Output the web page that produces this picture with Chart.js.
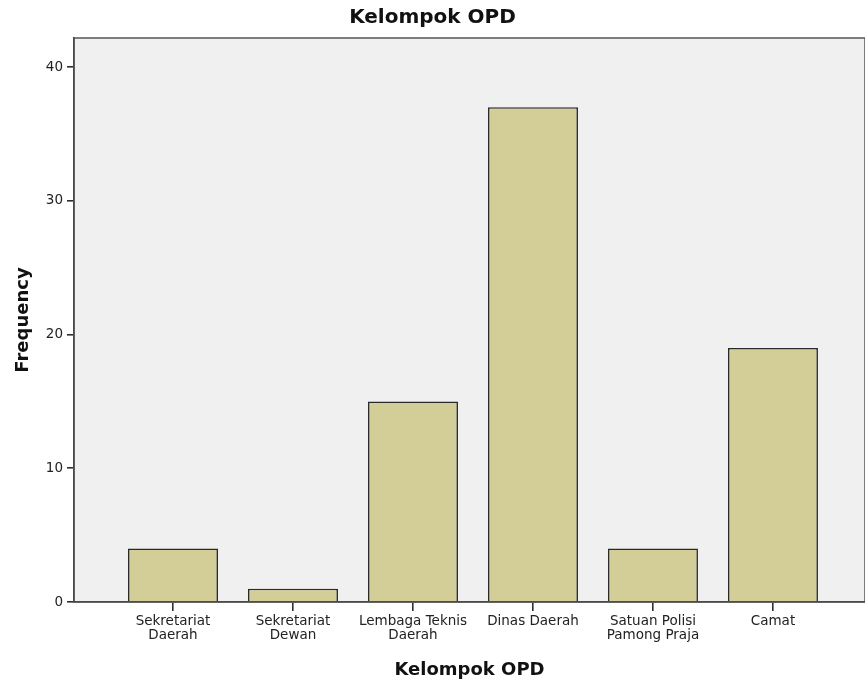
<!DOCTYPE html>
<html>
<head>
<meta charset="utf-8">
<script src="https://cdn.jsdelivr.net/npm/chart.js@4"></script>
<style>
  html, body { margin: 0; padding: 0; background: #ffffff; }
  #wrap { width: 865px; height: 700px; }
</style>
</head>
<body>
<div id="wrap"><canvas id="chart" width="865" height="700"></canvas></div>
<script>
// Data
const categories = [
  ['Sekretariat', 'Daerah'],
  ['Sekretariat', 'Dewan'],
  ['Lembaga Teknis', 'Daerah'],
  'Dinas Daerah',
  ['Satuan Polisi', 'Pamong Praja'],
  'Camat'
];
const frequencies = [4, 1, 15, 37, 4, 19];
const yTicks = [0, 10, 20, 30, 40];

const FONT = "'DejaVu Sans', sans-serif";
const AXIS_COLOR = '#2e2e2e';

// light grey plot background plus frame
const plotFrame = {
  id: 'plotFrame',
  beforeDraw(chart) {
    const { ctx, chartArea: a } = chart;
    ctx.save();
    ctx.fillStyle = '#f0f0f0';
    ctx.fillRect(a.left, a.top, a.right - a.left, a.bottom - a.top);
    ctx.restore();
  },
  afterDraw(chart) {
    const { ctx, chartArea: a } = chart;
    ctx.save();
    ctx.strokeStyle = '#555555';
    ctx.lineWidth = 1.5;
    ctx.strokeRect(a.left, a.top, a.right - a.left, a.bottom - a.top);
    ctx.restore();
  }
};

const points = frequencies.map((v, i) => ({ x: i, y: v }));

new Chart(document.getElementById('chart'), {
  type: 'bar',
  data: {
    datasets: [{
      data: points,
      backgroundColor: '#d3ce98',
      borderColor: '#2a2a2a',
      borderWidth: 1.6,
      barPercentage: 0.75,
      categoryPercentage: 1
    }]
  },
  options: {
    responsive: false,
    animation: false,
    layout: { padding: 0 },
    plugins: {
      legend: { display: false },
      tooltip: { enabled: false },
      title: {
        display: true,
        text: 'Kelompok OPD',
        color: '#111111',
        font: { family: FONT, size: 20, weight: 'bold', lineHeight: 1.2 },
        padding: { top: 6, bottom: 8 }
      }
    },
    scales: {
      x: {
        type: 'linear',
        offset: false,
        min: -0.825,
        max: 5.767,
        afterFit(scale) { scale.height = 98; },
        afterBuildTicks(scale) {
          scale.ticks = categories.map((c, i) => ({ value: i }));
        },
        grid: {
          offset: false,
          drawOnChartArea: false,
          drawTicks: true,
          tickLength: 9,
          color: AXIS_COLOR,
          lineWidth: 1.6
        },
        border: { display: true, color: AXIS_COLOR, width: 1.6 },
        ticks: {
          autoSkip: false,
          maxRotation: 0,
          padding: 3,
          color: '#222222',
          font: { family: FONT, size: 13.5, lineHeight: 1.07 },
          callback: (v) => categories[v]
        },
        title: {
          display: true,
          text: 'Kelompok OPD',
          color: '#111111',
          font: { family: FONT, size: 18, weight: 'bold', lineHeight: 1.2 },
          padding: { top: 0, bottom: 19 }
        }
      },
      y: {
        min: 0,
        max: 42.17,
        afterFit(scale) { scale.width = 74; },
        afterBuildTicks(scale) {
          scale.ticks = yTicks.map((v) => ({ value: v }));
        },
        grid: {
          drawOnChartArea: false,
          drawTicks: true,
          tickLength: 7,
          color: AXIS_COLOR,
          lineWidth: 1.6
        },
        border: { display: true, color: AXIS_COLOR, width: 1.6 },
        ticks: {
          padding: 4,
          color: '#222222',
          font: { family: FONT, size: 13.5 }
        },
        title: {
          display: true,
          text: 'Frequency',
          color: '#111111',
          font: { family: FONT, size: 18, weight: 'bold', lineHeight: 1.2 },
          padding: { top: 13, bottom: 0 }
        }
      }
    }
  },
  plugins: [plotFrame]
});
</script>
</body>
</html>
